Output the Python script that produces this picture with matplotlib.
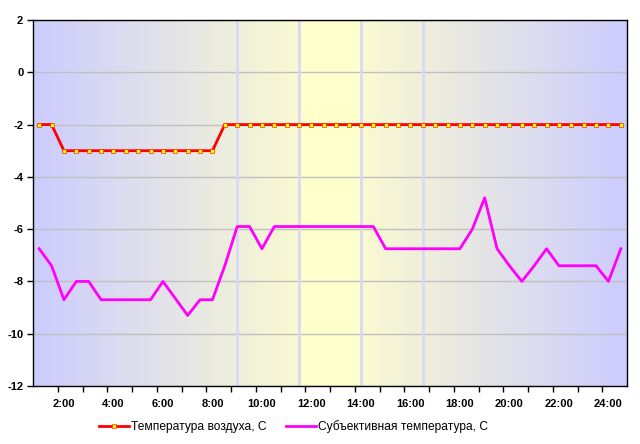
import numpy as np
import matplotlib
matplotlib.use("Agg")
import matplotlib.pyplot as plt
from matplotlib.lines import Line2D
import matplotlib.colors as mcolors

plt.rcParams['font.family'] = ['Liberation Sans', 'DejaVu Sans']
plt.rcParams['axes.unicode_minus'] = False

# half-hour points, 1:00 .. 24:30
labels = ["%d:00" % h for h in range(2, 25, 2)]
label_pos = [2, 6, 10, 14, 18, 22, 26, 30, 34, 38, 42, 46]

air_temp = [-2, -2] + [-3] * 13 + [-2] * 33

feel_temp = [-6.75, -7.4, -8.7, -8.0, -8.0, -8.7, -8.7, -8.7, -8.7, -8.7,
             -8.0, -8.65, -9.3, -8.7, -8.7, -7.4, -5.9, -5.9, -6.75, -5.9,
             -5.9, -5.9, -5.9, -5.9, -5.9, -5.9, -5.9, -5.9, -6.75, -6.75,
             -6.75, -6.75, -6.75, -6.75, -6.75, -6.0, -4.8, -6.75, -7.4, -8.0,
             -7.4, -6.75, -7.4, -7.4, -7.4, -7.4, -8.0, -6.75]

# light vertical markers (hours)
mark_hours = [9.0, 11.5, 14.0, 16.5]

n = len(air_temp)
x = np.arange(n)
marks = [h * 2 - 2 for h in mark_hours]

fig = plt.figure(figsize=(6.4, 4.44), dpi=100)
ax = fig.add_axes([33 / 640, 1 - 386 / 444, 594 / 640, 366 / 444])

# background gradient: blue at edges, yellow in the middle
xs = np.linspace(-0.5, n - 0.5, 600)
centre = (marks[1] + marks[2]) / 2
t = 1 - np.abs(xs - centre) / (centre + 0.5)
t = np.clip(t, 0, 1)
t[(xs >= marks[1]) & (xs <= marks[2])] = 1.0
blue = np.array(mcolors.to_rgb("#ccccff"))
yellow = np.array(mcolors.to_rgb("#ffffcc"))
grad = blue[None, :] * (1 - t[:, None]) + yellow[None, :] * t[:, None]
ax.imshow(grad[None, :, :], extent=[-0.5, n - 0.5, -12, 2], aspect='auto',
          zorder=0, interpolation='bilinear')

for m in marks:
    ax.axvline(m, color="#d8d8f8", lw=2, zorder=1)

ax.set_yticks(np.arange(-12, 3, 2))
ax.yaxis.grid(True, color="#c0c0c0", lw=1, zorder=1)
ax.set_axisbelow(True)

ax.plot(x, air_temp, color="red", lw=2, marker='s', ms=2.4,
        mfc="yellow", mec="red", mew=0.4, zorder=3)
ax.plot(x, feel_temp, color="#ff00ff", lw=2, zorder=3)

ax.set_xlim(-0.5, n - 0.5)
ax.set_ylim(-12, 2)

ax.set_xticks(np.arange(1.5, n - 1, 2))
ax.set_xticklabels([])
ax.set_xticks(label_pos, minor=True)
ax.set_xticklabels(labels, minor=True)
ax.tick_params(axis='x', which='minor', length=0, pad=9)
ax.tick_params(axis='x', which='major', length=4, width=1, direction='out')
ax.tick_params(axis='y', length=4, width=1, direction='out', pad=3)

for lab in ax.get_xticklabels(minor=True) + ax.get_yticklabels():
    lab.set_fontsize(8)
    lab.set_fontweight('bold')

for s in ax.spines.values():
    s.set_color("black")
    s.set_linewidth(1)

handles = [
    Line2D([], [], color="red", lw=2, marker='s', ms=2.4, mfc="yellow",
           mec="red", mew=0.4),
    Line2D([], [], color="#ff00ff", lw=2),
]
fig.legend(handles, ["Температура воздуха, С", "Субъективная температура, С"],
           loc='center', bbox_to_anchor=(293.5 / 640, 1 - 427 / 444), ncol=2,
           frameon=False, fontsize=8.65, handlelength=2.5, handletextpad=0.2,
           columnspacing=1.6, borderpad=0)

fig.savefig("out.png", dpi=100)
